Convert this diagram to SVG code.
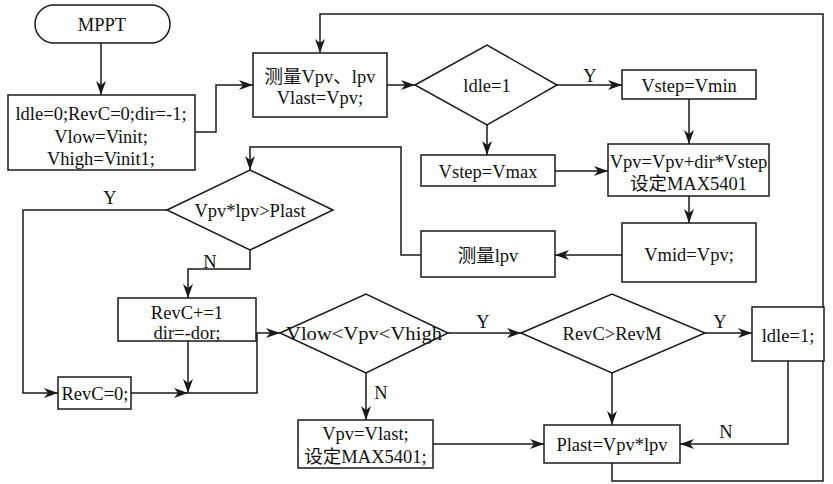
<svg xmlns="http://www.w3.org/2000/svg" width="833" height="484" viewBox="0 0 833 484">
<defs>
<marker id="ah" markerUnits="userSpaceOnUse" markerWidth="15" markerHeight="10" refX="14" refY="5" orient="auto">
<path d="M0,0 L14,5 L0,10 L4,5 z" fill="#1a1a1a"/>
</marker>
<style>
.n{fill:#fff;stroke:#1a1a1a;stroke-width:1.5}
.t{font-family:"Liberation Serif","Noto Sans CJK SC",serif;font-size:18.5px;fill:#111;text-anchor:middle}
.c{fill:none;stroke:#1a1a1a;stroke-width:1.5;marker-end:url(#ah)}
</style>
</defs>
<rect width="833" height="484" fill="#fff"/>
<g id="connectors">
<path class="c" d="M101,43 V95"/>
<path class="c" d="M195,132 H216 V85 H253"/>
<path class="c" d="M387,85 H415"/>
<path class="c" d="M557,85 H622"/>
<path class="c" d="M487,125 V155"/>
<path class="c" d="M689,99 V144"/>
<path class="c" d="M555,171 H608"/>
<path class="c" d="M689,196 V223"/>
<path class="c" d="M622,255 H555"/>
<path class="c" d="M421,255 H401 V147 H250 V170"/>
<path class="c" d="M167,210 H23 V393 H58"/>
<path class="c" d="M250,250 V269 H188 V298"/>
<path class="c" d="M188,341 V393"/>
<path class="c" d="M131,393 H188"/>
<path class="c" d="M188,393 H257 V333 H280"/>
<path class="c" d="M448,333 H521"/>
<path class="c" d="M705,333 H752"/>
<path class="c" d="M366,373 V420"/>
<path class="c" d="M612,373 V425"/>
<path class="c" d="M788,361 V444 H680"/>
<path class="c" d="M433,444 H544"/>
<path class="c" d="M612,463 V481 H823 V14 H320 V53"/>
<text class="t" x="590" y="82">Y</text>
<text class="t" x="110" y="204">Y</text>
<text class="t" x="210" y="268">N</text>
<text class="t" x="483" y="328">Y</text>
<text class="t" x="720" y="328">Y</text>
<text class="t" x="381" y="399">N</text>
<text class="t" x="726" y="438">N</text>
</g>
<g id="start"><rect class="n" x="35" y="5" width="135" height="38" rx="19"/><text class="t" x="102" y="30.5">MPPT</text></g>
<g id="init"><rect class="n" x="8" y="95" width="187" height="75"/>
<text class="t" x="101" y="119.5">ldle=0;RevC=0;dir=-1;</text>
<text class="t" x="101" y="142.5">Vlow=Vinit;</text>
<text class="t" x="101" y="164.5">Vhigh=Vinit1;</text></g>
<g id="measure"><rect class="n" x="253" y="53" width="134" height="64"/>
<text class="t" x="320" y="82.5">测量Vpv、lpv</text>
<text class="t" x="320" y="103.5">Vlast=Vpv;</text></g>
<g id="d_idle"><polygon class="n" points="415,85 487,45 557,85 487,125"/><text class="t" x="487" y="91.5">ldle=1</text></g>
<g id="vmin"><rect class="n" x="622" y="70" width="134" height="29"/><text class="t" x="689" y="91.5">Vstep=Vmin</text></g>
<g id="vmax"><rect class="n" x="421" y="155" width="134" height="31"/><text class="t" x="488" y="177.5">Vstep=Vmax</text></g>
<g id="vpv"><rect class="n" x="608" y="144" width="161" height="52"/>
<text class="t" x="688.5" y="167.5">Vpv=Vpv+dir*Vstep</text>
<text class="t" x="688.5" y="189.5">设定MAX5401</text></g>
<g id="vmid"><rect class="n" x="622" y="223" width="134" height="59"/><text class="t" x="689" y="260.5">Vmid=Vpv;</text></g>
<g id="mipv"><rect class="n" x="421" y="231" width="134" height="46"/><text class="t" x="488" y="261.5">测量lpv</text></g>
<g id="d_p"><polygon class="n" points="167,210 250,170 333,210 250,250"/><text class="t" x="250" y="216.5">Vpv*lpv&gt;Plast</text></g>
<g id="revc1"><rect class="n" x="118" y="298" width="138" height="43"/>
<text class="t" x="187" y="318.5">RevC+=1</text>
<text class="t" x="187" y="338.5">dir=-dor;</text></g>
<g id="revc0"><rect class="n" x="58" y="377" width="73" height="32"/><text class="t" x="95" y="399.5">RevC=0;</text></g>
<g id="d_v"><polygon class="n" points="280,333 366,294 448,333 366,373"/><text class="t" x="364" y="340" textLength="156" lengthAdjust="spacingAndGlyphs">Vlow&lt;Vpv&lt;Vhigh</text></g>
<g id="d_r"><polygon class="n" points="521,333 612,294 705,333 612,373"/><text class="t" x="612" y="339.5">RevC&gt;RevM</text></g>
<g id="idle1"><rect class="n" x="752" y="307" width="72" height="54"/><text class="t" x="788" y="341.5">ldle=1;</text></g>
<g id="vlast"><rect class="n" x="298" y="420" width="135" height="48"/>
<text class="t" x="365.5" y="439.5">Vpv=Vlast;</text>
<text class="t" x="365.5" y="462.5">设定MAX5401;</text></g>
<g id="plast"><rect class="n" x="544" y="425" width="136" height="38"/><text class="t" x="612" y="450.5">Plast=Vpv*lpv</text></g>
</svg>
